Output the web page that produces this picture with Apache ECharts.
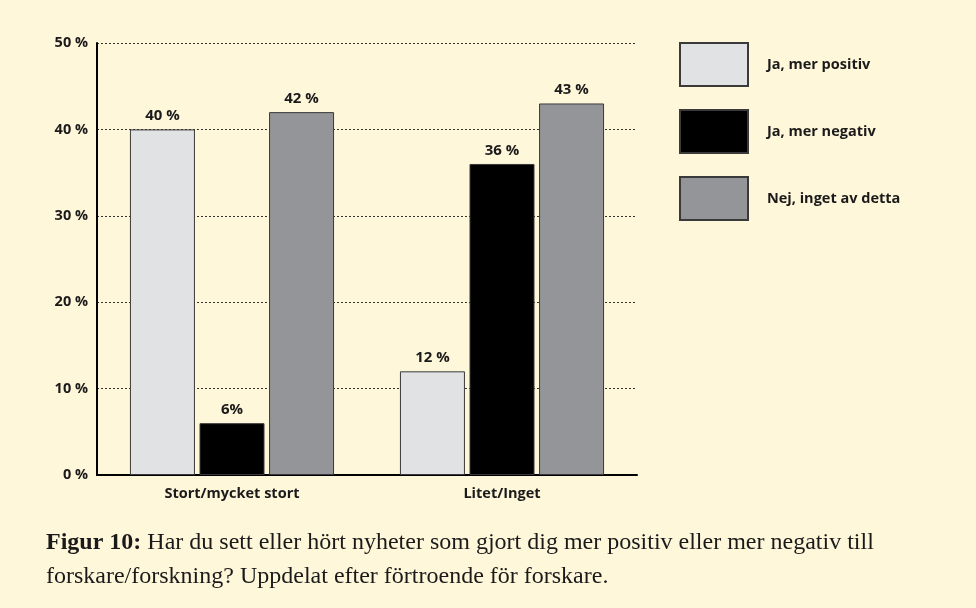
<!DOCTYPE html>
<html>
<head>
<meta charset="utf-8">
<script src="https://cdn.jsdelivr.net/npm/echarts@6/dist/echarts.min.js"></script>
<style>
  html, body { margin: 0; padding: 0; background: #fff7da; }
  #chart { width: 976px; height: 608px; }
</style>
</head>
<body>
<div id="chart"></div>
<script>
const categories = ['Stort/mycket stort', 'Litet/Inget'];
const seriesNames = ['Ja, mer positiv', 'Ja, mer negativ', 'Nej, inget av detta'];
const positiv = [40, 12];
const negativ = [6, 36];
const inget = [42, 43];
// labels as printed (one without space)
const positivLabels = ['40 %', '12 %'];
const negativLabels = ['6%', '36 %'];
const ingetLabels = ['42 %', '43 %'];
const yTicks = [0, 10, 20, 30, 40, 50];

const colors = ['#e1e2e3', '#000000', '#939598'];
const font = '"Open Sans", "Noto Sans", sans-serif';

function makeSeries(name, values, labels, i) {
  return {
    name: name,
    type: 'bar',
    barWidth: 65,
    barGap: '7%',
    data: values,
    itemStyle: { color: colors[i], borderColor: '#3a3a3a', borderWidth: 1 },
    label: {
      show: true,
      position: 'top',
      distance: 6,
      formatter: (p) => labels[p.dataIndex],
      fontFamily: font,
      fontWeight: 'bold',
      fontSize: 15,
      color: '#1a1a1a'
    }
  };
}

const chart = echarts.init(document.getElementById('chart'));
chart.setOption({
  backgroundColor: '#fff7da',
  animation: false,
  grid: { left: 97, right: 339, top: 43, bottom: 133, containLabel: false },
  legend: {
    orient: 'vertical',
    left: 674,
    top: 37,
    itemWidth: 68,
    itemHeight: 43,
    itemGap: 22,
    icon: 'rect',
    textStyle: { fontFamily: font, fontWeight: 'bold', fontSize: 14.5, color: '#1a1a1a', padding: [0, 0, 0, 14] },
    data: seriesNames
  },
  xAxis: {
    type: 'category',
    data: categories,
    axisLine: { lineStyle: { color: '#000', width: 2 } },
    axisTick: { show: false },
    axisLabel: { fontFamily: font, fontWeight: 'bold', fontSize: 14.5, color: '#1a1a1a', margin: 11 }
  },
  yAxis: {
    type: 'value',
    min: yTicks[0],
    max: yTicks[yTicks.length - 1],
    interval: 10,
    axisLine: { show: true, lineStyle: { color: '#000', width: 2 } },
    axisTick: { show: false },
    axisLabel: {
      fontFamily: font, fontWeight: 'bold', fontSize: 14.5, color: '#1a1a1a', margin: 9,
      formatter: (v) => v + ' %'
    },
    splitLine: { lineStyle: { color: '#333', type: [2, 2], width: 1 } }
  },
  graphic: [{
    type: 'text',
    left: 46,
    top: 526,
    style: {
      text: '{b|Figur 10:} Har du sett eller hört nyheter som gjort dig mer positiv eller mer negativ till\nforskare/forskning? Uppdelat efter förtroende för forskare.',
      fontFamily: '"Liberation Serif", "DejaVu Serif", serif',
      fontSize: 24,
      lineHeight: 34,
      fill: '#1a1a1a',
      rich: {
        b: { fontFamily: '"Liberation Serif", serif', fontSize: 24, fontWeight: 'bold', fill: '#1a1a1a', lineHeight: 34 }
      }
    }
  }],
  series: [
    makeSeries(seriesNames[0], positiv, positivLabels, 0),
    makeSeries(seriesNames[1], negativ, negativLabels, 1),
    makeSeries(seriesNames[2], inget, ingetLabels, 2)
  ]
});
</script>
</body>
</html>
